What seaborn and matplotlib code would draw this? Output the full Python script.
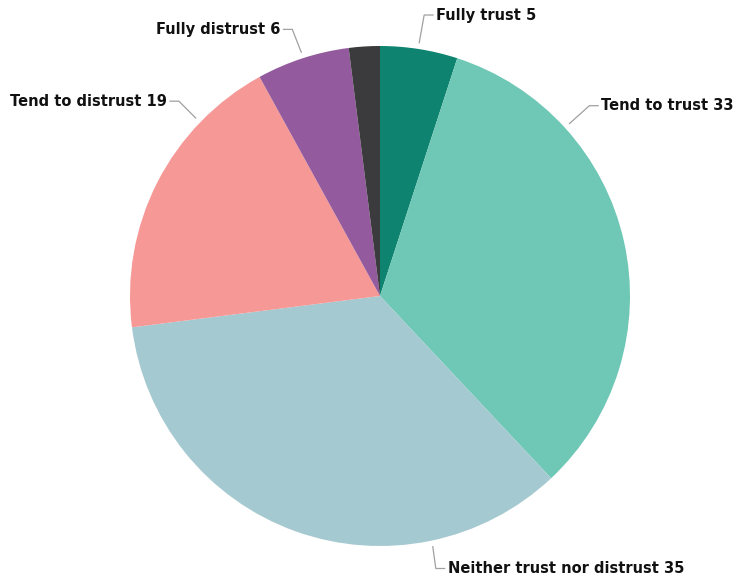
import numpy as np
import matplotlib
matplotlib.use("Agg")
import matplotlib.pyplot as plt
import seaborn as sns

sns.set_theme(style="white")
plt.rcParams["font.family"] = ["DejaVu Sans"]

# Survey answers and shares (%)
categories = ["Fully trust", "Tend to trust", "Neither trust nor distrust",
              "Tend to distrust", "Fully distrust", "Don't know"]
values = [5, 33, 35, 19, 6, 2]
show_label = [True, True, True, True, True, False]
colors = ["#0e8470", "#6fc7b6", "#a5c9d0", "#f59896", "#935b9e", "#3b3a3c"]

# Label placement: anchor angle (degrees clockwise from 12 o'clock),
# elbow offset from the anchor (px), and side of the text
label_angle = [8.8, 47.7, 168.1, 314.0, 342.1, None]
elbow_offset = [(5, 28), (20, 18), (3, -22), (-17, 17), (-9, 23), None]

W, H = 735, 583
fig = plt.figure(figsize=(W / 100, H / 100), dpi=100)
ax = fig.add_axes([0, 0, 1, 1])
ax.set_xlim(0, W)
ax.set_ylim(0, H)
ax.axis("off")

cx, cy, R = 380, H - 296, 250
ax.pie(values, colors=colors, startangle=90, counterclock=False,
       center=(cx, cy), radius=R, frame=True,
       wedgeprops=dict(linewidth=0))
ax.set_xlim(0, W)
ax.set_ylim(0, H)
ax.set_aspect("equal")
ax.axis("off")

for name, val, show, ang, off in zip(categories, values, show_label,
                                     label_angle, elbow_offset):
    if not show:
        continue
    a = np.deg2rad(ang)
    ax_, ay_ = cx + (R + 6) * np.sin(a), cy + (R + 6) * np.cos(a)
    ex, ey = ax_ + off[0], ay_ + off[1]
    right = np.sin(a) >= 0
    hx = ex + (9 if right else -9)
    ax.plot([ax_, ex, hx], [ay_, ey, ey], color="#a0a0a0", lw=0.9,
            solid_joinstyle="miter")
    ax.text(hx + (3 if right else -3), ey, f"{name} {val}",
            ha="left" if right else "right", va="center",
            fontsize=10.5, fontweight="bold", color="#111111")

fig.savefig("out.png", dpi=100, facecolor="white")
